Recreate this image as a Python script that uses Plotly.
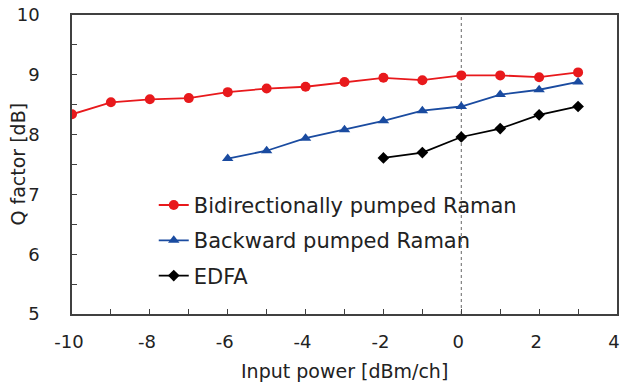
import plotly.graph_objects as go

x_bi = [-10, -9, -8, -7, -6, -5, -4, -3, -2, -1, 0, 1, 2, 3]
q_bi = [8.34, 8.54, 8.59, 8.61, 8.71, 8.77, 8.80, 8.88, 8.95, 8.91, 8.99, 8.99, 8.96, 9.04]

x_bw = [-6, -5, -4, -3, -2, -1, 0, 1, 2, 3]
q_bw = [7.60, 7.73, 7.94, 8.08, 8.23, 8.40, 8.47, 8.67, 8.75, 8.88]

x_ed = [-2, -1, 0, 1, 2, 3]
q_ed = [7.61, 7.70, 7.96, 8.10, 8.33, 8.47]

names = ["Bidirectionally pumped Raman", "Backward pumped Raman", "EDFA"]
x_ticks = [-10, -8, -6, -4, -2, 0, 2, 4]
x_ticktext = ["-10", "-8", "-6", "-4", "-2", "0", "2", "4"]
y_ticks = [5, 6, 7, 8, 9, 10]
x_title = "Input power [dBm/ch]"
y_title = "Q factor [dB]"

FONT = "DejaVu Sans"
AX = "#404040"
TXT = "#222222"

fig = go.Figure()
fig.add_trace(go.Scatter(x=x_bi, y=q_bi, mode="lines+markers", name=names[0], legendgroup="a",
                         line=dict(color="#e8191c", width=1.8),
                         marker=dict(symbol="circle", size=10, color="#e8191c")))
fig.add_trace(go.Scatter(x=x_bw, y=q_bw, mode="lines+markers", name=names[1], legendgroup="b",
                         line=dict(color="#1a4ba0", width=1.8),
                         marker=dict(symbol="triangle-up", size=10, color="#1a4ba0")))
fig.add_trace(go.Scatter(x=x_ed, y=q_ed, mode="lines+markers", name=names[2], legendgroup="c",
                         line=dict(color="#000000", width=1.8),
                         marker=dict(symbol="diamond", size=9, color="#000000")))

fig.add_shape(type="line", x0=0, x1=0, xref="x", y0=0, y1=1, yref="paper",
              line=dict(color="#666666", width=1, dash="dot"), layer="below")

fig.add_annotation(text=x_title, xref="paper", yref="paper", x=0.5, y=0,
                   xanchor="center", yanchor="middle", yshift=-57, showarrow=False,
                   font=dict(family=FONT, size=19, color=TXT))
fig.add_annotation(text=y_title, xref="paper", yref="paper", x=0, y=0.5,
                   xanchor="center", yanchor="middle", xshift=-55, textangle=-90,
                   showarrow=False, font=dict(family=FONT, size=19, color=TXT))

fig.update_layout(
    width=628, height=388,
    margin=dict(l=72, r=11, t=15, b=74),
    paper_bgcolor="white", plot_bgcolor="white",
    font=dict(family=FONT, size=18, color=TXT),
    showlegend=True,
    legend=dict(x=0.150, y=0.432, xanchor="left", yanchor="top",
                bgcolor="rgba(0,0,0,0)", font=dict(size=21, family=FONT),
                tracegroupgap=5),
    xaxis=dict(range=[-10, 4], tickvals=x_ticks, ticktext=x_ticktext, ticks="inside", ticklen=5,
               tickcolor=AX, automargin=False, ticklabelshift=-3, ticklabeloverflow="allow",
               showline=True, linecolor=AX, linewidth=1.5, mirror=True, showgrid=False,
               zeroline=False, ticklabelstandoff=11,
               minor=dict(dtick=1, ticks="inside", ticklen=5, tickcolor=AX)),
    yaxis=dict(range=[5, 10], tickvals=y_ticks, ticks="inside", ticklen=5, tickcolor=AX,
               automargin=False, ticklabeloverflow="allow",
               showline=True, linecolor=AX, linewidth=1.5, mirror=True, showgrid=False,
               zeroline=False, ticklabelstandoff=27,
               minor=dict(dtick=0.5, ticks="inside", ticklen=5, tickcolor=AX)),
)

fig.write_html("out.html", config={"displayModeBar": False},
               post_script="document.body.style.margin='0';")
